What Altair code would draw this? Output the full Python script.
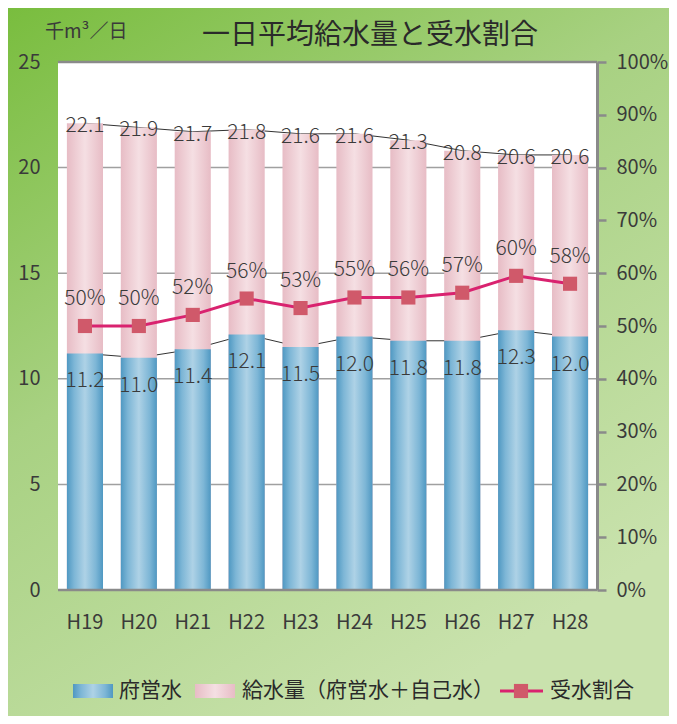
import altair as alt
import pandas as pd

years = ["H19", "H20", "H21", "H22", "H23", "H24", "H25", "H26", "H27", "H28"]
total = [22.1, 21.9, 21.7, 21.8, 21.6, 21.6, 21.3, 20.8, 20.6, 20.6]
fuei = [11.2, 11.0, 11.4, 12.1, 11.5, 12.0, 11.8, 11.8, 12.3, 12.0]
ratio = [0.500, 0.500, 0.521, 0.552, 0.534, 0.554, 0.554, 0.563, 0.595, 0.580]
ratio_labels = ["50%", "50%", "52%", "56%", "53%", "55%", "56%", "57%", "60%", "58%"]
grid_values = [5, 10, 15, 20]

df = pd.DataFrame({"year": years, "total": total, "fuei": fuei,
                   "ratio": ratio, "rlabel": ratio_labels,
                   "tlabel": [f"{v:.1f}" for v in total],
                   "flabel": [f"{v:.1f}" for v in fuei]})
grid_df = pd.DataFrame({"g": grid_values})
one = pd.DataFrame({"a": [0]})

FONT = "Noto Sans CJK JP"
TXT = "#3a3a3a"
W, H = 539, 528

x_enc = alt.X("year:N", sort=years, title=None,
              scale=alt.Scale(paddingInner=0.33, paddingOuter=0.165),
              axis=alt.Axis(labelFont=FONT, labelFontSize=20, labelColor=TXT,
                            ticks=False, domain=False, labelPadding=22,
                            labelAngle=0, zindex=1))
ysc = alt.Scale(domain=[0, 25], nice=False, zero=True)
rsc = alt.Scale(domain=[0, 1], nice=False)

def yl(field, axis=None):
    return alt.Y(f"{field}:Q", scale=ysc, axis=axis, title=None)

bg_grad = alt.LinearGradient(gradient="linear", x1=0, y1=0, x2=0.6, y2=1,
                             stops=[alt.GradientStop(offset=0, color="#79bd3e"),
                                    alt.GradientStop(offset=0.45, color="#a8d182"),
                                    alt.GradientStop(offset=1, color="#c9e2ad")])
blue_grad = alt.LinearGradient(gradient="linear", x1=0, y1=0, x2=1, y2=0,
                               stops=[alt.GradientStop(offset=0, color="#4f98c2"),
                                      alt.GradientStop(offset=0.2, color="#7db6d6"),
                                      alt.GradientStop(offset=0.5, color="#aed2e6"),
                                      alt.GradientStop(offset=0.8, color="#7db6d6"),
                                      alt.GradientStop(offset=1, color="#4f98c2")])
pink_grad = alt.LinearGradient(gradient="linear", x1=0, y1=0, x2=1, y2=0,
                               stops=[alt.GradientStop(offset=0, color="#e7bcc5"),
                                      alt.GradientStop(offset=0.5, color="#f5dfe3"),
                                      alt.GradientStop(offset=1, color="#e7bcc5")])

bg = alt.Chart(one).mark_rect(fill=bg_grad).encode(
    x=alt.value(-50), x2=alt.value(611), y=alt.value(-54), y2=alt.value(654))
white = alt.Chart(one).mark_rect(fill="white").encode(
    x=alt.value(0), x2=alt.value(W), y=alt.value(0), y2=alt.value(H))

grid = alt.Chart(grid_df).mark_rule(color="#a0a0a0", strokeWidth=1.5).encode(
    y=alt.Y("g:Q", scale=ysc, axis=None, title=None))

base = alt.Chart(df).encode(x=x_enc)

conn_total = base.mark_line(color="#333333", strokeWidth=1).encode(y=yl("total"))
conn_fuei = base.mark_line(color="#333333", strokeWidth=1).encode(y=yl("fuei"))

pink = base.mark_bar(fill=pink_grad).encode(
    y=yl("total", alt.Axis(labelFont=FONT, labelFontSize=20, labelColor=TXT,
                           ticks=False, domain=False, grid=False,
                           values=[0, 5, 10, 15, 20, 25], labelPadding=18,
                           zindex=1)))
blue = base.mark_bar(fill=blue_grad).encode(y=yl("fuei"))

frame_top = alt.Chart(one).mark_rule(color="#8a8a8a", strokeWidth=2.5).encode(
    x=alt.value(0), x2=alt.value(W), y=alt.value(0))
frame_bot = alt.Chart(one).mark_rule(color="#8a8a8a", strokeWidth=2.5).encode(
    x=alt.value(0), x2=alt.value(W), y=alt.value(H))

line = base.mark_line(color="#d9226f", strokeWidth=3).encode(
    y=alt.Y("ratio:Q", scale=rsc, title=None,
            axis=alt.Axis(orient="right", format=".0%",
                          values=[i / 10 for i in range(11)],
                          labelFont=FONT, labelFontSize=20, labelColor=TXT,
                          tickColor="#8a8a8a", tickWidth=2.5, tickSize=9,
                          domainColor="#8a8a8a", domainWidth=3,
                          grid=False, labelPadding=10, zindex=1)))
pts = base.mark_point(shape="square", filled=True, color="#d0596a", opacity=1,
                      size=200).encode(
    y=alt.Y("ratio:Q", scale=rsc, axis=None, title=None))

tt = base.mark_text(font=FONT, fontSize=21, fontWeight=300, color=TXT,
                    baseline="middle", dy=3).encode(
    y=yl("total"), text="tlabel:N")
ft = base.mark_text(font=FONT, fontSize=21, fontWeight=300, color=TXT,
                    baseline="middle", dy=28).encode(
    y=yl("fuei"), text="flabel:N")
rt = base.mark_text(font=FONT, fontSize=21, fontWeight=300, color=TXT,
                    baseline="middle", dy=-27).encode(
    y=alt.Y("ratio:Q", scale=rsc, axis=None, title=None), text="rlabel:N")

title = alt.Chart(one).mark_text(font=FONT, fontSize=28, color="#2a2a2a",
                                 align="center", baseline="middle").encode(
    x=alt.value(312), y=alt.value(-26), text=alt.value("一日平均給水量と受水割合"))
unit = alt.Chart(one).mark_text(font=FONT, fontSize=19, color=TXT,
                                align="left", baseline="middle").encode(
    x=alt.value(-13), y=alt.value(-30), text=alt.value("千m³／日"))

LY = 629
leg_blue = alt.Chart(one).mark_rect(fill=blue_grad).encode(
    x=alt.value(15), x2=alt.value(55), y=alt.value(LY - 7), y2=alt.value(LY + 7))
leg_pink = alt.Chart(one).mark_rect(fill=pink_grad).encode(
    x=alt.value(137), x2=alt.value(177), y=alt.value(LY - 7), y2=alt.value(LY + 7))
leg_line = alt.Chart(one).mark_rule(color="#d9226f", strokeWidth=3).encode(
    x=alt.value(442), x2=alt.value(485), y=alt.value(LY))
leg_pt = alt.Chart(one).mark_point(shape="square", filled=True, color="#d0596a",
                                   opacity=1, size=200).encode(
    x=alt.value(463), y=alt.value(LY))

def leg_text(xp, s):
    return alt.Chart(one).mark_text(font=FONT, fontSize=21, color="#2a2a2a",
                                    align="left", baseline="middle").encode(
        x=alt.value(xp), y=alt.value(LY), text=alt.value(s))

chart = alt.layer(
    bg, white, grid, conn_total, conn_fuei, pink, blue, frame_top, frame_bot,
    line, pts, tt, ft, rt, title, unit,
    leg_blue, leg_pink, leg_line, leg_pt,
    leg_text(61, "府営水"), leg_text(184, "給水量（府営水＋自己水）"), leg_text(492, "受水割合"),
).resolve_scale(y="independent").properties(
    width=W, height=H, padding=0, background="#a8d182"
).configure_view(stroke=None)

chart.save("out.html", embed_options={"renderer": "svg", "actions": False})
